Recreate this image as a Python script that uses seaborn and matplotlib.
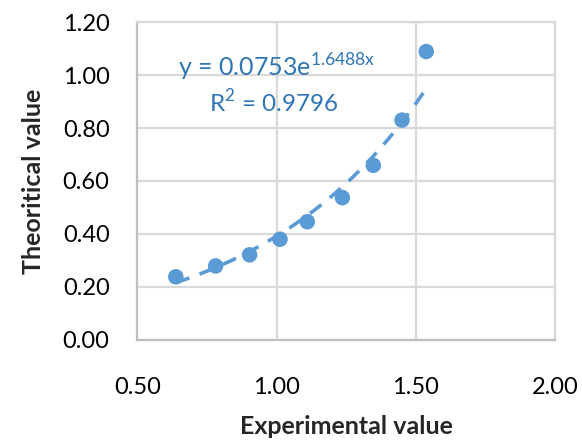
import numpy as np
import pandas as pd
import matplotlib
matplotlib.use("Agg")
import matplotlib.pyplot as plt
import seaborn as sns

# Data
experimental = [0.638, 0.781, 0.903, 1.012, 1.110, 1.236, 1.347, 1.450, 1.537]
theoretical = [0.238, 0.279, 0.321, 0.380, 0.446, 0.537, 0.659, 0.830, 1.089]

# Exponential trendline coefficients as shown on the chart
trend_a = 0.0753
trend_b = 1.6488
r_squared = 0.9796

x_ticks = [0.50, 1.00, 1.50, 2.00]
y_ticks = [0.00, 0.20, 0.40, 0.60, 0.80, 1.00, 1.20]

sns.set_theme(style="white")
plt.rcParams['font.family'] = ['Lato', 'DejaVu Sans']

df = pd.DataFrame({"Experimental value": experimental, "Theoritical value": theoretical})
tx = np.linspace(min(experimental), max(experimental), 200)
trend_df = pd.DataFrame({"x": tx, "y": trend_a * np.exp(trend_b * tx)})

fig = plt.figure(figsize=(5.82, 4.43), dpi=100)
ax = fig.add_axes([0.236, 0.233, 0.718, 0.717])

blue = "#5B9BD5"
sns.lineplot(data=trend_df, x="x", y="y", ax=ax, color=blue, linewidth=2.6,
             linestyle=(0, (4, 3)), zorder=2)
sns.scatterplot(data=df, x="Experimental value", y="Theoritical value", ax=ax,
                color=blue, s=125, edgecolor="none", zorder=3)

ax.set_xlim(0.5, 2.0)
ax.set_ylim(0.0, 1.2)
ax.set_xticks(x_ticks)
ax.set_yticks(y_ticks)
ax.set_xticklabels([f"{v:.2f}" for v in x_ticks])
ax.set_yticklabels([f"{v:.2f}" for v in y_ticks])
ax.tick_params(axis='x', length=0, pad=27, labelsize=17, colors="#000000")
ax.tick_params(axis='y', length=0, pad=20, labelsize=17, colors="#000000")

ax.grid(True, color="#D9D9D9", linewidth=1.6)
ax.set_axisbelow(True)
for side in ["top", "right"]:
    ax.spines[side].set_visible(True)
    ax.spines[side].set_color("#D9D9D9")
    ax.spines[side].set_linewidth(1.6)
for side in ["left", "bottom"]:
    ax.spines[side].set_color("#BFBFBF")
    ax.spines[side].set_linewidth(1.6)

ax.set_xlabel("Experimental value", fontsize=18, fontweight="bold", labelpad=12)
ax.set_ylabel("Theoritical value", fontsize=18, fontweight="bold", labelpad=13)

ax.text(0.646, 0.994, f"y = {trend_a}e$^{{\\mathregular{{{trend_b}x}}}}$", fontsize=18,
        color="#2E75B6", ha="left", va="baseline")
ax.text(0.757, 0.862, f"R$^{{\\mathregular{{2}}}}$ = {r_squared}", fontsize=17.5,
        color="#2E75B6", ha="left", va="baseline")

fig.savefig("out.png", dpi=100)
